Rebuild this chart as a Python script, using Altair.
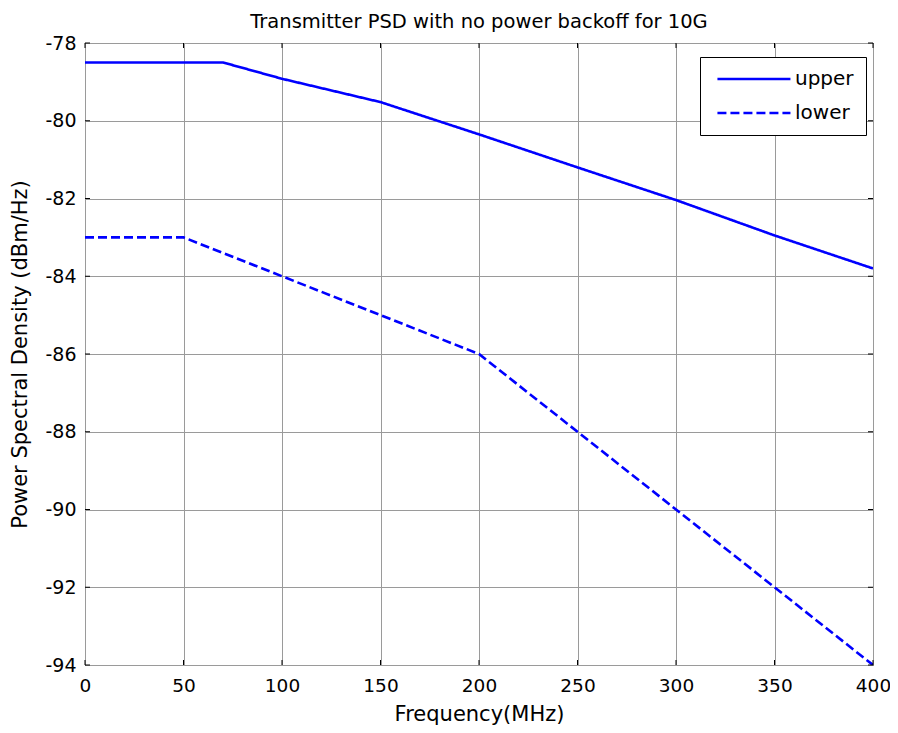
import altair as alt
import pandas as pd

# ---- data ----
freq_upper = [0, 70, 100, 150, 200, 250, 300, 350, 400]
psd_upper = [-78.5, -78.5, -78.92, -79.52, -80.35, -81.2, -82.04, -82.95, -83.8]
freq_lower = [0, 50, 100, 200, 250, 300, 350, 400]
psd_lower = [-83.0, -83.0, -84.0, -86.0, -88.0, -90.0, -92.0, -94.0]
series_names = ["upper", "lower"]
x_ticks = [0, 50, 100, 150, 200, 250, 300, 350, 400]
y_ticks = [-94, -92, -90, -88, -86, -84, -82, -80, -78]

W, H = 788, 622
FONT = "DejaVu Sans"
BLUE = "#0000ff"

df = pd.concat([
    pd.DataFrame({"freq": freq_upper, "psd": psd_upper, "series": series_names[0]}),
    pd.DataFrame({"freq": freq_lower, "psd": psd_lower, "series": series_names[1]}),
])
xt = pd.DataFrame({"freq": x_ticks})
yt = pd.DataFrame({"psd": y_ticks})

xscale = alt.Scale(domain=[0, 400], nice=False, zero=False)
yscale = alt.Scale(domain=[-94, -78], nice=False, zero=False)

lines = alt.Chart(df).mark_line(strokeWidth=2.6, color=BLUE, clip=True).encode(
    x=alt.X("freq:Q", scale=xscale,
            axis=alt.Axis(values=x_ticks, title="Frequency(MHz)",
                          labelExpr="'' + datum.value", labelFlush=False,
                          labelFontSize=18.5,
                          labelPadding=11, titlePadding=9)),
    y=alt.Y("psd:Q", scale=yscale,
            axis=alt.Axis(values=y_ticks, title="Power Spectral Density (dBm/Hz)",
                          labelExpr="'' + datum.value", labelFlush=False,
                          labelPadding=9, titlePadding=14)),
    strokeDash=alt.StrokeDash(
        "series:N",
        scale=alt.Scale(domain=series_names, range=[[1, 0], [9, 4]]),
        legend=alt.Legend(
            title=None, orient="none", legendX=615, legendY=14,
            symbolType="M-1,0H15", symbolSize=83.3, symbolStrokeWidth=2.6,
            symbolStrokeColor=BLUE, symbolFillColor="transparent",
            labelFontSize=20, labelFont=FONT,
            labelColor="black", labelOffset=63,
            strokeColor="black", fillColor="white", padding=12,
            rowPadding=14,
        ),
    ),
    order="freq:Q",
)

xt_bottom = alt.Chart(xt).mark_rule(color="black", strokeWidth=1).encode(
    x=alt.X("freq:Q", scale=xscale), y=alt.value(H), y2=alt.value(H - 5))
xt_top = alt.Chart(xt).mark_rule(color="black", strokeWidth=1).encode(
    x=alt.X("freq:Q", scale=xscale), y=alt.value(0), y2=alt.value(5))
yt_left = alt.Chart(yt).mark_rule(color="black", strokeWidth=1).encode(
    y=alt.Y("psd:Q", scale=yscale), x=alt.value(0), x2=alt.value(5))
yt_right = alt.Chart(yt).mark_rule(color="black", strokeWidth=1).encode(
    y=alt.Y("psd:Q", scale=yscale), x=alt.value(W), x2=alt.value(W - 5))

chart = alt.layer(lines, xt_bottom, xt_top, yt_left, yt_right).properties(
    width=W, height=H,
    background="white",
    title=alt.TitleParams("Transmitter PSD with no power backoff for 10G",
                          fontSize=19.5, font=FONT, fontWeight="normal", offset=2,
                          color="black"),
    autosize=alt.AutoSizeParams(type="none"),
    padding={"left": 77, "top": 35, "right": 17, "bottom": 60},
).configure_view(
    stroke="black", strokeWidth=1
).configure_axis(
    domain=False, ticks=False, grid=True, gridColor="#9a9a9a", gridWidth=1,
    labelFont=FONT, labelFontSize=19, labelColor="black",
    titleFont=FONT, titleFontSize=21, titleFontWeight="normal", titleColor="black",
)

chart.save("out.html", embed_options={"renderer": "svg", "actions": False})
